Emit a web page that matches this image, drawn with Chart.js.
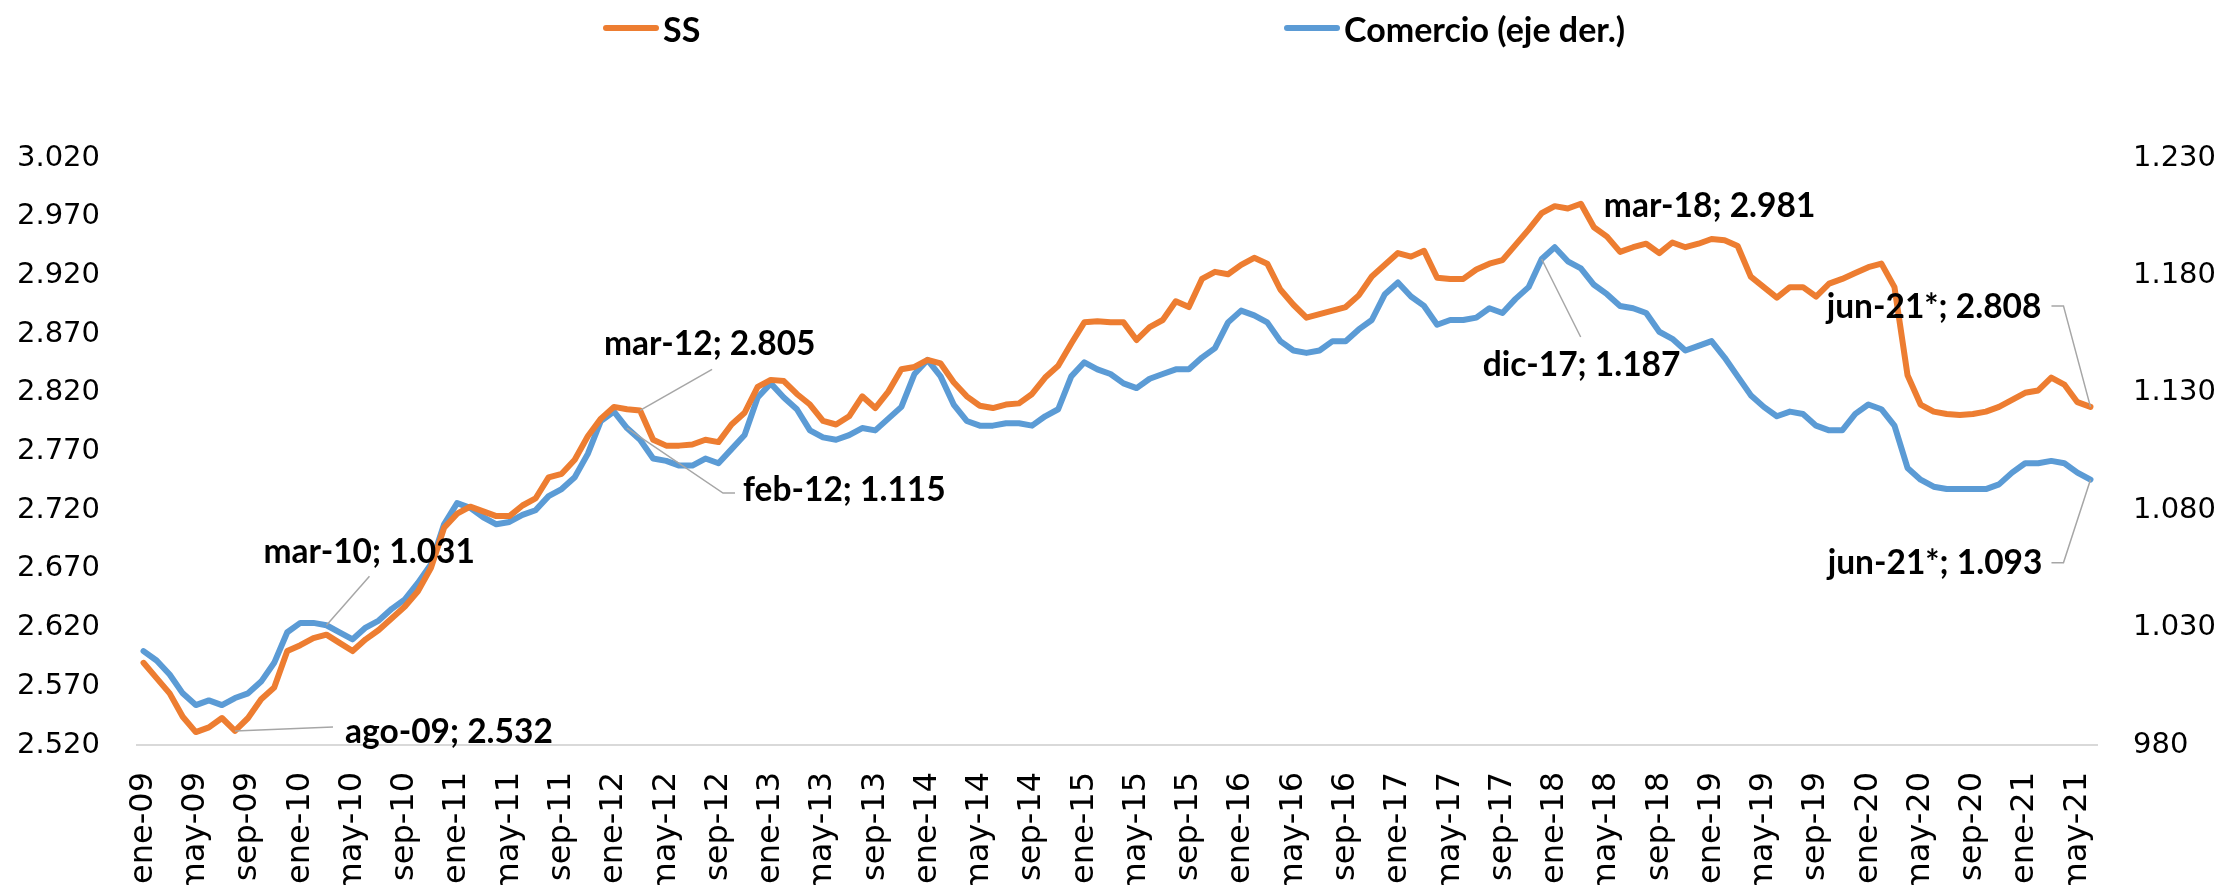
<!DOCTYPE html>
<html>
<head>
<meta charset="utf-8">
<script src="https://cdn.jsdelivr.net/npm/chart.js@4/dist/chart.umd.min.js"></script>
<style>
  html, body { margin: 0; padding: 0; background: #fff; }
  #wrap { position: relative; width: 2226px; height: 885px; overflow: hidden; }
  #legend .item { position: absolute; top: 0; height: 56px; display: flex; align-items: center;
    font-family: 'Lato', sans-serif; font-weight: bold; font-size: 34px; color: #000; white-space: nowrap; }
  #legend .bar { width: 56px; height: 6px; border-radius: 3px; margin-right: 4px; }
</style>
</head>
<body>
<div id="wrap">
  <canvas id="myChart" width="2226" height="885"></canvas>
  <div id="legend"></div>
</div>
<script>
// months shown as ene-09 ... jun-21
const monthNames = ['ene', 'feb', 'mar', 'abr', 'may', 'jun', 'jul', 'ago', 'sep', 'oct', 'nov', 'dic'];
const years = ['09', '10', '11', '12', '13', '14', '15', '16', '17', '18', '19', '20', '21'];
const lastMonths = 6; // 2021 only up to jun

const categories = [];
years.forEach((yy, k) => {
    const n = k === years.length - 1 ? lastMonths : 12;
    for (let m = 0; m < n; m++) categories.push(monthNames[m] + '-' + yy);
});

// afiliados Seguridad Social (miles), left axis
const ssValues = [
    2590, 2577, 2564, 2544, 2531, 2535, 2543, 2532, 2543, 2559, 2569, 2600,
    2605, 2611, 2614, 2607, 2600, 2610, 2618, 2628, 2638, 2651, 2671, 2705,
    2717, 2723, 2719, 2715, 2715, 2724, 2730, 2748, 2751, 2763, 2783, 2798,
    2808, 2806, 2805, 2780, 2775, 2775, 2776, 2780, 2778, 2793, 2803, 2825,
    2831, 2830, 2819, 2810, 2796, 2793, 2800, 2817, 2807, 2821, 2840, 2842,
    2848, 2845, 2829, 2817, 2809, 2807, 2810, 2811, 2819, 2833, 2843, 2862,
    2880, 2881, 2880, 2880, 2865, 2876, 2882, 2898, 2893, 2917, 2923, 2921,
    2929, 2935, 2930, 2908, 2895, 2884, 2887, 2890, 2893, 2903, 2919, 2929,
    2939, 2936, 2941, 2918, 2917, 2917, 2925, 2930, 2933, 2946, 2959, 2973,
    2979, 2977, 2981, 2961, 2953, 2940, 2944, 2947, 2939, 2948, 2944, 2947,
    2951, 2950, 2945, 2919, 2910, 2901, 2910, 2910, 2902, 2913, 2917, 2922,
    2927, 2930, 2910, 2835, 2810, 2804, 2802, 2801, 2802, 2804, 2808, 2814,
    2820, 2822, 2833, 2827, 2812, 2808
];

// comercio (miles), right axis
const comercioValues = [
    1020, 1016, 1010, 1002, 997, 999, 997, 1000, 1002, 1007, 1015, 1028,
    1032, 1032, 1031, 1028, 1025, 1030, 1033, 1038, 1042, 1049, 1057, 1074,
    1083, 1081, 1077, 1074, 1075, 1078, 1080, 1086, 1089, 1094, 1104, 1118,
    1122, 1115, 1110, 1102, 1101, 1099, 1099, 1102, 1100, 1106, 1112, 1128,
    1134, 1128, 1123, 1114, 1111, 1110, 1112, 1115, 1114, 1119, 1124, 1138,
    1144, 1137, 1125, 1118, 1116, 1116, 1117, 1117, 1116, 1120, 1123, 1137,
    1143, 1140, 1138, 1134, 1132, 1136, 1138, 1140, 1140, 1145, 1149, 1160,
    1165, 1163, 1160, 1152, 1148, 1147, 1148, 1152, 1152, 1157, 1161, 1172,
    1177, 1171, 1167, 1159, 1161, 1161, 1162, 1166, 1164, 1170, 1175, 1187,
    1192, 1186, 1183, 1176, 1172, 1167, 1166, 1164, 1156, 1153, 1148, 1150,
    1152, 1145, 1137, 1129, 1124, 1120, 1122, 1121, 1116, 1114, 1114, 1121,
    1125, 1123, 1116, 1098, 1093, 1090, 1089, 1089, 1089, 1089, 1091, 1096,
    1100, 1100, 1101, 1100, 1096, 1093
];

const leftTicks = { min: 2520, max: 3020, step: 50 };
const rightTicks = { min: 980, max: 1230, step: 50 };

const fmt = v => {
    const s = String(Math.round(v));
    return s.length > 3 ? s.slice(0, -3) + '.' + s.slice(-3) : s;
};

// labelled points: dataset, index, suffix, text offset from the point, leader path
const callouts = [
    { ds: 1, i: 14, dx: -63, dy: -73, align: 'left', lead: [[43, -49]] },
    { ds: 0, i: 7, dx: 110, dy: 1, align: 'left', lead: [[98, -4]] },
    { ds: 0, i: 38, dx: -36, dy: -66, align: 'left', lead: [[72, -41]] },
    { ds: 1, i: 37, dx: 116, dy: 62, align: 'left', lead: [[96, 65], [108, 65]] },
    { ds: 1, i: 107, dx: -59, dy: 106, align: 'left', lead: [[39, 78]] },
    { ds: 0, i: 110, dx: 23, dy: 2, align: 'left', lead: [] },
    { ds: 0, i: 149, dx: -49, dy: -100, align: 'right', suffix: '*', lead: [[-27, -101], [-39, -101]] },
    { ds: 1, i: 149, dx: -48, dy: 84, align: 'right', suffix: '*', lead: [[-27, 83], [-39, 83]] },
];

const calloutPlugin = {
    id: 'callouts',
    afterDatasetsDraw(chart) {
        const ctx = chart.ctx;
        ctx.save();
        callouts.forEach(c => {
            const pt = chart.getDatasetMeta(c.ds).data[c.i];
            const value = chart.data.datasets[c.ds].data[c.i];
            if (c.lead.length) {
                ctx.strokeStyle = '#a6a6a6';
                ctx.lineWidth = 1.5;
                ctx.beginPath();
                ctx.moveTo(pt.x, pt.y);
                c.lead.forEach(p => ctx.lineTo(pt.x + p[0], pt.y + p[1]));
                ctx.stroke();
            }
            ctx.fillStyle = '#000';
            ctx.font = 'bold 33.5px Lato';
            ctx.textAlign = c.align;
            ctx.textBaseline = 'middle';
            ctx.fillText(categories[c.i] + (c.suffix || '') + '; ' + fmt(value), pt.x + c.dx, pt.y + c.dy);
        });
        ctx.restore();
    }
};

const yFont = { family: 'DejaVu Sans', size: 29 };
const xFont = { family: 'DejaVu Sans', size: 32 };

const ctx = document.getElementById('myChart').getContext('2d');
const myChart = new Chart(ctx, {
    type: 'line',
    data: {
        labels: categories,
        datasets: [
            {
                label: 'SS',
                data: ssValues,
                yAxisID: 'y',
                borderColor: '#ED7D31',
                backgroundColor: '#ED7D31',
            },
            {
                label: 'Comercio (eje der.)',
                data: comercioValues,
                yAxisID: 'y1',
                borderColor: '#5B9BD5',
                backgroundColor: '#5B9BD5',
            }
        ]
    },
    options: {
        responsive: false,
        animation: false,
        devicePixelRatio: 1,
        layout: {
            padding: { top: 158, left: 0, right: 0, bottom: 0 }
        },
        elements: {
            line: {
                borderWidth: 6,
                tension: 0,
                borderJoinStyle: 'round',
                borderCapStyle: 'round'
            },
            point: {
                radius: 0
            }
        },
        scales: {
            x: {
                offset: true,
                grid: { display: false, drawTicks: false },
                border: { display: true, color: '#d9d9d9', width: 2 },
                afterFit: scale => { scale.height = 140; },
                ticks: {
                    autoSkip: false,
                    minRotation: 90,
                    maxRotation: 90,
                    padding: 27,
                    color: '#000',
                    font: xFont,
                    callback: (val, index) => index % 4 === 0 ? categories[index] : ''
                }
            },
            y: {
                position: 'left',
                min: leftTicks.min,
                max: leftTicks.max,
                grid: { display: false, drawTicks: false },
                border: { display: false },
                afterFit: scale => { scale.width = 137; },
                ticks: {
                    stepSize: leftTicks.step,
                    padding: 37,
                    color: '#000',
                    font: yFont,
                    callback: v => fmt(v)
                }
            },
            y1: {
                position: 'right',
                min: rightTicks.min,
                max: rightTicks.max,
                grid: { display: false, drawTicks: false },
                border: { display: false },
                afterFit: scale => { scale.width = 129; },
                ticks: {
                    stepSize: rightTicks.step,
                    padding: 36,
                    color: '#000',
                    font: yFont,
                    callback: v => fmt(v)
                }
            }
        },
        plugins: {
            legend: { display: false },
            tooltip: { enabled: false }
        }
    },
    plugins: [calloutPlugin]
});

// legend built from the datasets, placed like the original
const legendLeft = [603, 1284];
const legendEl = document.getElementById('legend');
myChart.data.datasets.forEach((ds, k) => {
    const item = document.createElement('div');
    item.className = 'item';
    item.style.left = legendLeft[k] + 'px';
    const bar = document.createElement('span');
    bar.className = 'bar';
    bar.style.background = ds.borderColor;
    item.appendChild(bar);
    item.appendChild(document.createTextNode(ds.label));
    legendEl.appendChild(item);
});
</script>
</body>
</html>
